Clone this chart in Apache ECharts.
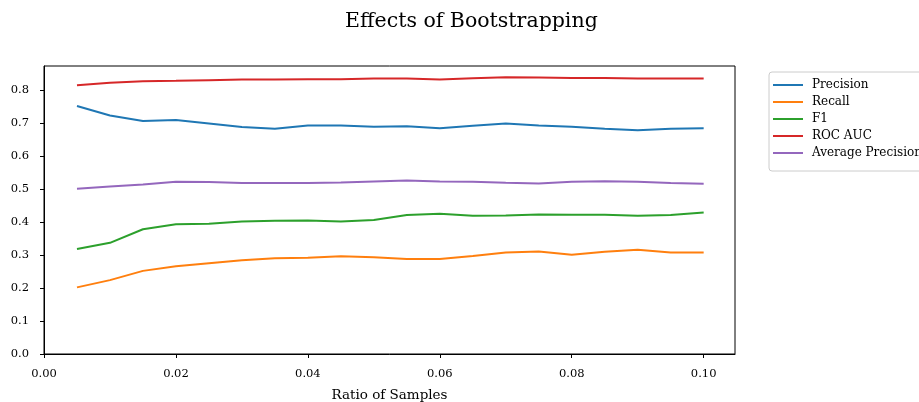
<!DOCTYPE html>
<html>
<head>
<meta charset="utf-8">
<script src="https://cdn.jsdelivr.net/npm/echarts@6/dist/echarts.min.js"></script>
<style>
  html, body { margin: 0; padding: 0; background: #fff; }
  #chart { width: 919px; height: 402px; }
</style>
</head>
<body>
<div id="chart"></div>
<script>
// Sample ratios on the x axis
const ratios = [0.005, 0.010, 0.015, 0.020, 0.025, 0.030, 0.035, 0.040, 0.045, 0.050,
                0.055, 0.060, 0.065, 0.070, 0.075, 0.080, 0.085, 0.090, 0.095, 0.100];

// Metric values per ratio
const precision = [0.752, 0.723, 0.706, 0.709, 0.699, 0.688, 0.683, 0.693, 0.693, 0.689,
                   0.690, 0.684, 0.692, 0.699, 0.693, 0.689, 0.683, 0.678, 0.683, 0.684];
const recall    = [0.202, 0.224, 0.252, 0.266, 0.275, 0.284, 0.290, 0.292, 0.296, 0.293,
                   0.288, 0.288, 0.297, 0.308, 0.311, 0.301, 0.310, 0.316, 0.308, 0.308];
const f1        = [0.318, 0.337, 0.378, 0.393, 0.395, 0.402, 0.404, 0.405, 0.402, 0.406,
                   0.421, 0.425, 0.419, 0.420, 0.423, 0.422, 0.422, 0.419, 0.421, 0.429];
const rocAuc    = [0.815, 0.822, 0.827, 0.828, 0.830, 0.832, 0.832, 0.833, 0.833, 0.835,
                   0.835, 0.832, 0.836, 0.839, 0.838, 0.837, 0.837, 0.835, 0.835, 0.835];
const avgPrec   = [0.501, 0.508, 0.514, 0.522, 0.521, 0.518, 0.518, 0.518, 0.520, 0.523,
                   0.526, 0.523, 0.522, 0.519, 0.517, 0.522, 0.524, 0.522, 0.518, 0.516];

const seriesNames = ['Precision', 'Recall', 'F1', 'ROC AUC', 'Average Precision'];
const seriesValues = [precision, recall, f1, rocAuc, avgPrec];
const colors = ['#1f77b4', '#ff7f0e', '#2ca02c', '#d62728', '#9467bd'];

// Tick positions
const xTicks = [0.00, 0.02, 0.04, 0.06, 0.08, 0.10];
const yTicks = [0.0, 0.1, 0.2, 0.3, 0.4, 0.5, 0.6, 0.7, 0.8];

const serif = '"DejaVu Serif", "Liberation Serif", serif';

const chart = echarts.init(document.getElementById('chart'), null, { renderer: 'canvas' });

chart.setOption({
  animation: false,
  backgroundColor: '#fff',
  color: colors,
  title: {
    text: 'Effects of Bootstrapping',
    left: 340,
    top: 6,
    textStyle: { fontFamily: serif, fontSize: 20.5, fontWeight: 'normal', color: '#000' }
  },
  legend: {
    orient: 'vertical',
    left: 769,
    top: 72,
    padding: [7, 8, 12, 4],
    itemGap: 5,
    itemWidth: 30,
    itemHeight: 2,
    icon: 'rect',
    borderColor: '#cccccc',
    borderWidth: 1,
    borderRadius: 3,
    textStyle: { fontFamily: serif, fontSize: 12, color: '#000', padding: [0, 0, 0, 4] },
    data: seriesNames
  },
  grid: {
    left: 44, right: 184, top: 66, bottom: 48,
    outerBoundsMode: 'none',
    containLabel: false,
    show: true, borderColor: '#000', borderWidth: 1
  },
  xAxis: {
    type: 'value',
    min: 0,
    max: 0.10475,
    name: 'Ratio of Samples',
    nameLocation: 'middle',
    nameGap: 34,
    nameTextStyle: { fontFamily: serif, fontSize: 13.5, color: '#000' },
    splitLine: { show: false },
    axisLine: { show: true, onZero: false, lineStyle: { color: '#000', width: 1 } },
    axisTick: { show: true, length: 4, lineStyle: { color: '#000' }, customValues: xTicks },
    axisLabel: {
      customValues: xTicks,
      formatter: v => v.toFixed(2),
      fontFamily: serif, fontSize: 11.5, color: '#000', margin: 14
    }
  },
  yAxis: {
    type: 'value',
    min: 0,
    max: 0.873,
    splitLine: { show: false },
    axisLine: { show: true, lineStyle: { color: '#000', width: 1 } },
    axisTick: { show: true, length: 4, lineStyle: { color: '#000' }, customValues: yTicks },
    axisLabel: {
      customValues: yTicks,
      formatter: v => v.toFixed(1),
      fontFamily: serif, fontSize: 11.5, color: '#000', margin: 15
    }
  },
  series: seriesNames.map((name, i) => ({
    name,
    type: 'line',
    showSymbol: false,
    symbol: 'none',
    lineStyle: { width: 2, color: colors[i] },
    itemStyle: { color: colors[i] },
    data: ratios.map((r, j) => [r, seriesValues[i][j]])
  }))
});
</script>
</body>
</html>
